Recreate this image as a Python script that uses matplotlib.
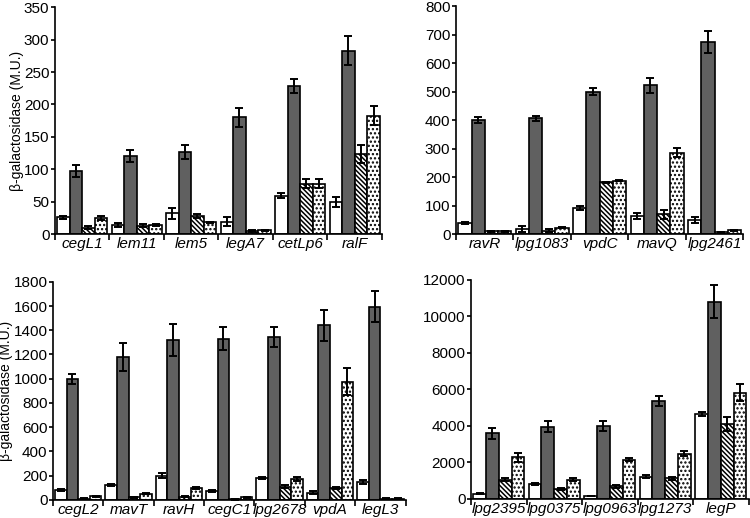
import numpy as np
import matplotlib.pyplot as plt

plt.rcParams['font.family'] = ['Liberation Sans', 'DejaVu Sans']
plt.rcParams['hatch.linewidth'] = 1.1

# Panel A
genes_a = ['cegL1', 'lem11', 'lem5', 'legA7', 'cetLp6', 'ralF']
white_a = [26, 14, 32, 19, 59, 50]
white_a_err = [2, 3, 8, 7, 4, 8]
gray_a = [97, 121, 127, 180, 229, 283]
gray_a_err = [9, 9, 11, 15, 11, 22]
hatch_a = [10, 13, 28, 5, 78, 124]
hatch_a_err = [2, 2, 3, 1, 7, 14]
dot_a = [25, 14, 18, 6, 78, 183]
dot_a_err = [3, 2, 1, 0.5, 7, 15]

# Panel B
genes_b = ['ravR', 'lpg1083', 'vpdC', 'mavQ', 'lpg2461']
white_b = [38, 17, 92, 63, 50]
white_b_err = [4, 10, 7, 10, 10]
gray_b = [400, 406, 500, 522, 675]
gray_b_err = [10, 10, 13, 25, 38]
hatch_b = [10, 12, 182, 69, 7]
hatch_b_err = [2, 5, 2, 15, 2]
dot_b = [10, 22, 188, 286, 14]
dot_b_err = [2, 2, 2, 15, 2]

# Panel C
genes_c = ['cegL2', 'mavT', 'ravH', 'cegC1', 'lpg2678', 'vpdA', 'legL3']
white_c = [80, 125, 200, 75, 180, 60, 150]
white_c_err = [10, 10, 20, 8, 10, 10, 15]
gray_c = [995, 1180, 1320, 1330, 1345, 1440, 1595]
gray_c_err = [40, 115, 135, 95, 85, 130, 125]
hatch_c = [10, 20, 25, 5, 110, 100, 10]
hatch_c_err = [3, 5, 5, 2, 10, 10, 3]
dot_c = [30, 50, 100, 20, 170, 975, 10]
dot_c_err = [5, 5, 10, 5, 15, 110, 3]

# Panel D
genes_d = ['lpg2395', 'lpg0375', 'lpg0963', 'lpg1273', 'legP']
white_d = [280, 800, 150, 1200, 4630]
white_d_err = [30, 50, 20, 80, 100]
gray_d = [3580, 3950, 3980, 5350, 10800]
gray_d_err = [280, 300, 280, 270, 900]
hatch_d = [1050, 550, 680, 1120, 4100]
hatch_d_err = [80, 50, 80, 80, 400]
dot_d = [2280, 1050, 2150, 2480, 5820]
dot_d_err = [250, 80, 80, 150, 450]

panels = [
    ([0.0733, 0.548, 0.436, 0.438], genes_a, [white_a, gray_a, hatch_a, dot_a],
     [white_a_err, gray_a_err, hatch_a_err, dot_a_err], 350, 50, True),
    ([0.608, 0.548, 0.383, 0.440], genes_b, [white_b, gray_b, hatch_b, dot_b],
     [white_b_err, gray_b_err, hatch_b_err, dot_b_err], 800, 100, False),
    ([0.0707, 0.035, 0.470, 0.421], genes_c, [white_c, gray_c, hatch_c, dot_c],
     [white_c_err, gray_c_err, hatch_c_err, dot_c_err], 1800, 200, True),
    ([0.628, 0.037, 0.370, 0.423], genes_d, [white_d, gray_d, hatch_d, dot_d],
     [white_d_err, gray_d_err, hatch_d_err, dot_d_err], 12000, 2000, False),
]

fills = ['white', '#606060', 'white', 'white']
hatches = [None, None, '\\' * 7, '.' * 4]
width = 0.23

fig = plt.figure(figsize=(7.5, 5.18), dpi=100)

for rect, genes, series, errs, ymax, ystep, ylab in panels:
    ax = fig.add_axes(rect)
    n = len(genes)
    x = np.arange(n)
    for k in range(4):
        pos = x + 0.5 + (k - 1.5) * width
        ax.bar(pos, series[k], width=width, color=fills[k], edgecolor='black',
               linewidth=1.2, hatch=hatches[k], zorder=2)
        ax.errorbar(pos, series[k], yerr=errs[k], fmt='none', ecolor='black',
                    elinewidth=1.4, capsize=3, capthick=1.4, zorder=3)
    ax.set_xlim(0, n)
    ax.set_ylim(0, ymax)
    ax.set_yticks(np.arange(0, ymax + 1, ystep))
    ax.set_xticks(np.arange(n + 1))
    ax.set_xticklabels([])
    ax.set_xticks(x + 0.5, minor=True)
    ax.set_xticklabels(genes, minor=True, style='italic', fontsize=11)
    ax.tick_params(axis='x', which='minor', length=0, pad=2)
    ax.tick_params(axis='x', which='major', length=4, width=1.2, direction='out')
    ax.tick_params(axis='y', length=3, width=1.2, labelsize=11, pad=1)
    for s in ['top', 'right']:
        ax.spines[s].set_visible(False)
    for s in ['left', 'bottom']:
        ax.spines[s].set_linewidth(1.2)
    if ylab:
        ax.set_ylabel('β-galactosidase (M.U.)', fontsize=10, labelpad=0)

fig.savefig('out.png', dpi=100)
